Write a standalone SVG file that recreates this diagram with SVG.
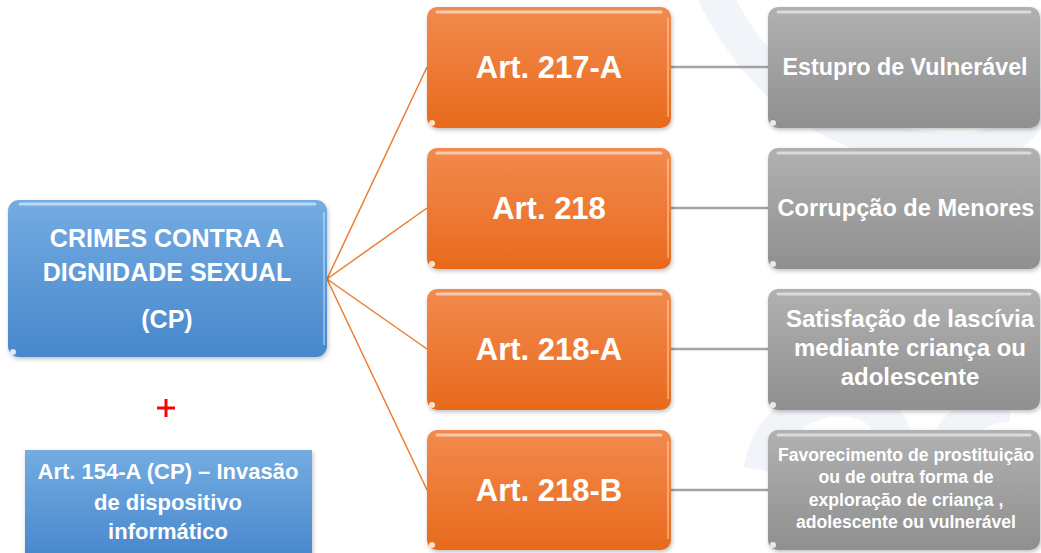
<svg xmlns="http://www.w3.org/2000/svg" width="1041" height="553" viewBox="0 0 1041 553">
  <defs>
    <linearGradient id="gBlue" x1="0" y1="0" x2="0" y2="1">
      <stop offset="0" stop-color="#74ace2"/>
      <stop offset="1" stop-color="#4787cc"/>
    </linearGradient>
    <linearGradient id="gOrange" x1="0" y1="0" x2="0" y2="1">
      <stop offset="0" stop-color="#f28a4e"/>
      <stop offset="1" stop-color="#e86a1c"/>
    </linearGradient>
    <linearGradient id="gGray" x1="0" y1="0" x2="0" y2="1">
      <stop offset="0" stop-color="#b1b1b1"/>
      <stop offset="1" stop-color="#8f8f8f"/>
    </linearGradient>
    <filter id="shadow" x="-10%" y="-10%" width="120%" height="130%">
      <feDropShadow dx="1" dy="2" stdDeviation="2" flood-color="#000" flood-opacity="0.25"/>
    </filter>
  </defs>
  <style>
    text { font-family: "Liberation Sans", Arial, sans-serif; font-weight: bold; fill: #ffffff; text-anchor: middle; }
    .hl { stroke: #ffffff; stroke-opacity: 0.55; stroke-width: 3; stroke-linecap: round; fill: none; }
    .edge { stroke: #ffffff; stroke-opacity: 0.35; stroke-width: 2; fill: none; }
    .dot { fill: #ffffff; fill-opacity: 0.8; }
    .fan { stroke: #ed7d31; stroke-width: 1.5; fill: none; }
    .link { stroke: #a3a3a3; stroke-width: 2.5; fill: none; }
    .wm { fill: none; stroke: #f1f4f9; stroke-width: 34; }
  </style>

  <rect width="1041" height="553" fill="#ffffff"/>

  <!-- faint background emblem -->
  <g id="emblem">
    <path class="wm" d="M712,-10 C760,90 840,150 960,150 C1010,150 1030,120 1045,90"/>
    <path class="wm" d="M760,470 C770,420 810,395 850,400 C890,405 900,440 900,470"/>
    <path class="wm" d="M940,470 C945,430 975,405 1010,405"/>
  </g>

  <!-- connectors -->
  <g id="connectors">
    <line class="fan" x1="327" y1="279" x2="427" y2="67"/>
    <line class="fan" x1="327" y1="279" x2="427" y2="208"/>
    <line class="fan" x1="327" y1="279" x2="427" y2="349"/>
    <line class="fan" x1="327" y1="279" x2="427" y2="490"/>
    <line class="link" x1="671" y1="67" x2="768" y2="67"/>
    <line class="link" x1="671" y1="208" x2="768" y2="208"/>
    <line class="link" x1="671" y1="349" x2="768" y2="349"/>
    <line class="link" x1="671" y1="490" x2="768" y2="490"/>
  </g>

  <!-- root node -->
  <g id="root">
    <rect x="8" y="200" width="319" height="157" rx="11" fill="url(#gBlue)" filter="url(#shadow)"/>
    <line class="hl" x1="20" y1="204" x2="315" y2="204"/>
    <line class="edge" x1="324" y1="212" x2="324" y2="345"/>
    <circle class="dot" cx="13" cy="352" r="3"/>
    <text x="167" y="247" font-size="25">CRIMES CONTRA A</text>
    <text x="167" y="281" font-size="25">DIGNIDADE SEXUAL</text>
    <text x="167" y="328" font-size="25">(CP)</text>
  </g>

  <g id="plus">
    <path d="M157,408 H175 M166,399 V417" stroke="#ff0000" stroke-width="3" fill="none"/>
  </g>

  <!-- extra article -->
  <g id="art154a">
    <rect x="25" y="450" width="287" height="110" fill="url(#gBlue)" filter="url(#shadow)"/>
    <text x="168" y="479" font-size="22">Art. 154-A (CP) – Invasão</text>
    <text x="168" y="510" font-size="22">de dispositivo</text>
    <text x="168" y="539" font-size="22">informático</text>
  </g>

  <!-- article nodes -->
  <g id="art217a">
    <rect x="427" y="7" width="244" height="121" rx="10" fill="url(#gOrange)" filter="url(#shadow)"/>
    <line class="hl" x1="437" y1="12" x2="661" y2="12"/>
    <line class="edge" x1="668" y1="18" x2="668" y2="117"/>
    <circle class="dot" cx="432" cy="123" r="3"/>
    <text x="549" y="78" font-size="31">Art. 217-A</text>
  </g>
  <g id="art218">
    <rect x="427" y="148" width="244" height="121" rx="10" fill="url(#gOrange)" filter="url(#shadow)"/>
    <line class="hl" x1="437" y1="153" x2="661" y2="153"/>
    <line class="edge" x1="668" y1="159" x2="668" y2="258"/>
    <circle class="dot" cx="432" cy="264" r="3"/>
    <text x="549" y="219" font-size="31">Art. 218</text>
  </g>
  <g id="art218a">
    <rect x="427" y="289" width="244" height="121" rx="10" fill="url(#gOrange)" filter="url(#shadow)"/>
    <line class="hl" x1="437" y1="294" x2="661" y2="294"/>
    <line class="edge" x1="668" y1="300" x2="668" y2="399"/>
    <circle class="dot" cx="432" cy="405" r="3"/>
    <text x="549" y="360" font-size="31">Art. 218-A</text>
  </g>
  <g id="art218b">
    <rect x="427" y="430" width="244" height="120" rx="10" fill="url(#gOrange)" filter="url(#shadow)"/>
    <line class="hl" x1="437" y1="435" x2="661" y2="435"/>
    <line class="edge" x1="668" y1="441" x2="668" y2="539"/>
    <circle class="dot" cx="432" cy="545" r="3"/>
    <text x="549" y="501" font-size="31">Art. 218-B</text>
  </g>

  <!-- description nodes -->
  <g id="estupro">
    <rect x="768" y="7" width="272" height="121" rx="10" fill="url(#gGray)" filter="url(#shadow)"/>
    <line class="hl" x1="778" y1="12" x2="1030" y2="12"/>
    <circle class="dot" cx="773" cy="123" r="3"/>
    <text x="905" y="75" font-size="23.3">Estupro de Vulnerável</text>
  </g>
  <g id="corrupcao">
    <rect x="768" y="148" width="272" height="121" rx="10" fill="url(#gGray)" filter="url(#shadow)"/>
    <line class="hl" x1="778" y1="153" x2="1030" y2="153"/>
    <circle class="dot" cx="773" cy="264" r="3"/>
    <text x="906" y="216" font-size="23.6">Corrupção de Menores</text>
  </g>
  <g id="satisfacao">
    <rect x="768" y="289" width="272" height="121" rx="10" fill="url(#gGray)" filter="url(#shadow)"/>
    <line class="hl" x1="778" y1="294" x2="1030" y2="294"/>
    <circle class="dot" cx="773" cy="405" r="3"/>
    <text x="910" y="327" font-size="24">Satisfação de lascívia</text>
    <text x="910" y="356" font-size="24">mediante criança ou</text>
    <text x="910" y="385" font-size="24">adolescente</text>
  </g>
  <g id="favorecimento">
    <rect x="768" y="430" width="272" height="120" rx="10" fill="url(#gGray)" filter="url(#shadow)"/>
    <line class="hl" x1="778" y1="435" x2="1030" y2="435"/>
    <circle class="dot" cx="773" cy="545" r="3"/>
    <text x="906" y="461" font-size="17.6">Favorecimento de prostituição</text>
    <text x="906" y="483" font-size="17.6">ou de outra forma de</text>
    <text x="906" y="506" font-size="17.6">exploração de criança ,</text>
    <text x="906" y="528" font-size="17.6">adolescente ou vulnerável</text>
  </g>
</svg>
